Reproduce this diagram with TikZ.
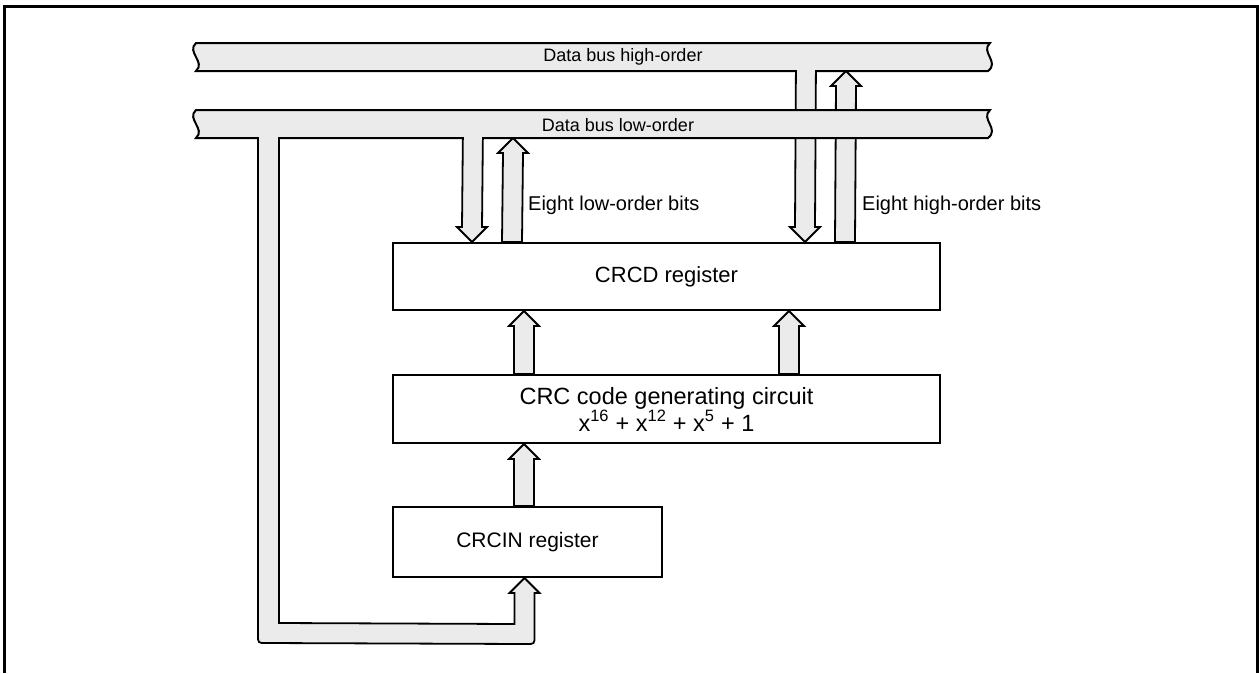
\documentclass[tikz,border=0pt]{standalone}
\usepackage{fontspec}
\setmainfont{Liberation Sans}
\usetikzlibrary{calc}
\definecolor{busgray}{RGB}{235,235,235}
\newcommand\UpPipe[2]{%
  \filldraw[pipe] ($(#1)+(-10,0)$) -- ($(#2)+(-10,15)$) -- ($(#2)+(-15,15)$) -- (#2)
    -- ($(#2)+(15,15)$) -- ($(#2)+(10,15)$) -- ($(#1)+(10,0)$) -- cycle;}
\newcommand\DownPipe[2]{%
  \filldraw[pipe] ($(#1)+(-10,0)$) -- ($(#2)+(-10,-15)$) -- ($(#2)+(-15,-15)$) -- (#2)
    -- ($(#2)+(15,-15)$) -- ($(#2)+(10,-15)$) -- ($(#1)+(10,0)$) -- cycle;}
\begin{document}
\begin{tikzpicture}[x=1pt,y=-1pt,
  pipe/.style={fill=busgray, draw=black, line width=1.8pt, line join=miter},
  bus/.style={fill=busgray, draw=black, line width=2pt},
  box/.style={draw=black, fill=white, line width=2pt, inner sep=0pt, align=center,
    font=\fontsize{22}{27}\selectfont},
  buslabel/.style={font=\fontsize{18}{20}\selectfont, inner sep=0pt},
  bitlabel/.style={font=\fontsize{20}{24}\selectfont, inner sep=0pt, anchor=west}]
\useasboundingbox (0,0) rectangle (1259,673);
\draw[line width=3pt] (4,673) -- (4,6.5) -- (1257.5,6.5) -- (1257.5,673);

% boxes
\node[box, minimum width=547pt, minimum height=67pt] (crcd) at (666.5,276.5) {CRCD register};
\node[box, minimum width=547pt, minimum height=68pt, font=\fontsize{23.5}{27}\selectfont] (crcgen) at (666.5,409)
  {CRC code generating circuit\\x\textsuperscript{16} + x\textsuperscript{12} + x\textsuperscript{5} + 1};
\node[box, minimum width=269pt, minimum height=70pt, font=\fontsize{21}{25}\selectfont] (crcin) at (527.5,542) {CRCIN register};

% arrows between boxes
\coordinate (g1) at ($(crcgen.north west)+(132,0)$);
\coordinate (d1) at ($(crcd.south west)+(132,0)$);
\coordinate (g2) at ($(crcgen.north west)+(397,0)$);
\coordinate (d2) at ($(crcd.south west)+(397,0)$);
\coordinate (i1) at ($(crcin.north west)+(132,0)$);
\coordinate (g3) at ($(crcgen.south west)+(132,0)$);
\UpPipe{g1}{d1}
\UpPipe{g2}{d2}
\UpPipe{i1}{g3}

% pipes to and from the data buses
\coordinate (hdtop) at (806,57);
\coordinate (hdtip) at ($(crcd.north west)+(413,0)$);
\coordinate (hubot) at ($(crcd.north west)+(453,0)$);
\coordinate (hutip) at (846,71);
\coordinate (ldtop) at (473,124);
\coordinate (ldtip) at ($(crcd.north west)+(80,0)$);
\coordinate (lubot) at ($(crcd.north west)+(120,0)$);
\coordinate (lutip) at (513,138);
\DownPipe{hdtop}{hdtip}
\UpPipe{hubot}{hutip}
\DownPipe{ldtop}{ldtip}
\UpPipe{lubot}{lutip}

% loop from low-order bus to CRCIN
\coordinate (lt) at ($(crcin.south west)+(132.5,0)$);
\filldraw[pipe] (258,124) -- (258,635) .. controls (258,643) .. (266,643)
  -- ($(lt)+(2,66)$) .. controls ($(lt)+(10,66)$) .. ($(lt)+(10,58)$)
  -- ($(lt)+(10,15)$) -- ($(lt)+(15,15)$) -- (lt) -- ($(lt)+(-15,15)$)
  -- ($(lt)+(-10,15)$) -- ($(lt)+(-10,46)$) -- (279,623) -- (279,124) -- cycle;

% buses
\filldraw[bus] (196,43) -- (990,43) .. controls (980,52) and (1000,62) .. (988,71)
  -- (196,71) .. controls (206,62) and (186,52) .. (196,43) -- cycle;
\filldraw[bus] (196,110) -- (990,110) .. controls (980,119) and (1000,129) .. (988,138)
  -- (196,138) .. controls (206,129) and (186,119) .. (196,110) -- cycle;

% open the junctions
\fill[busgray] (797.2,64) rectangle (814.8,74);
\fill[busgray] (464.2,131) rectangle (481.8,141);
\fill[busgray] (259.2,131) rectangle (277.8,141);

\node[buslabel] (hbus) at (623,57) {Data bus high-order};
\node[buslabel] (lbus) at (618,125) {Data bus low-order};
\node[bitlabel] (lbits) at (528,205) {Eight low-order bits};
\node[bitlabel] (hbits) at (862,205) {Eight high-order bits};
\end{tikzpicture}
\end{document}
